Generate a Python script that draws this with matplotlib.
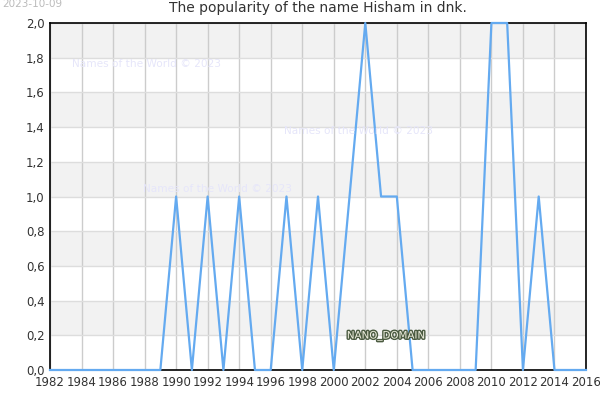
import matplotlib
matplotlib.use("Agg")
import matplotlib.pyplot as plt
import matplotlib.patheffects as pe

years = list(range(1982, 2017))
values = [0, 0, 0, 0, 0, 0, 0, 0,   # 1982-1989
          1, 0, 1, 0, 1, 0, 0,      # 1990-1996
          1, 0, 1, 0, 1, 2, 1, 1,   # 1997-2004
          0, 0, 0, 0, 0,            # 2005-2009
          2, 2, 0, 1, 0, 0, 0]      # 2010-2016
xticks = list(range(1982, 2017, 2))
yticks = [0.0, 0.2, 0.4, 0.6, 0.8, 1.0, 1.2, 1.4, 1.6, 1.8, 2.0]
ytick_labels = [f"{v:.1f}".replace(".", ",") for v in yticks]

fig = plt.figure(figsize=(6, 4), dpi=100)
ax = fig.add_axes([50/600, 1-370/400, 536/600, 347/400])

# alternating bands
for i in range(0, len(yticks)-1):
    if i % 2 == 1:
        ax.axhspan(yticks[i], yticks[i+1], color="#f2f2f2", zorder=0, lw=0)

ax.set_xlim(1982, 2016)
ax.set_ylim(0, 2.0)
ax.set_xticks(xticks)
ax.set_yticks(yticks)
ax.set_yticklabels(ytick_labels)
ax.grid(True, axis="x", color="#cccccc", lw=1, zorder=1)
ax.grid(True, axis="y", color="#dddddd", lw=1, zorder=1)
ax.set_axisbelow(True)
ax.tick_params(axis="both", labelsize=8.5, colors="#333333", length=0, pad=4)
for s in ax.spines.values():
    s.set_color("black")
    s.set_linewidth(1.2)

ax.plot(years, values, color="#64aaf0", lw=1.6, zorder=3, clip_on=False)

ax.set_title("The popularity of the name Hisham in dnk.", fontsize=10, color="#333333", pad=8)

wm_color = "#e6e6fa"
fig.text(72/600, 1-64/400, "Names of the World © 2023", fontsize=7.6, color=wm_color, va="center")
fig.text(284/600, 1-131/400, "Names of the World © 2023", fontsize=7.6, color=wm_color, va="center")
fig.text(143/600, 1-189/400, "Names of the World © 2023", fontsize=7.6, color=wm_color, va="center")

fig.text(2/600, 1-4/400, "2023-10-09", fontsize=7.5, color="#bbbbbb", va="center")

t = fig.text(386/600, 1-336/400, "NANO_DOMAIN", fontsize=7.4, color="#f0f0e0",
             ha="center", va="center")
t.set_path_effects([pe.withStroke(linewidth=2, foreground="#4a5a40")])

fig.savefig("out.png", dpi=100)
